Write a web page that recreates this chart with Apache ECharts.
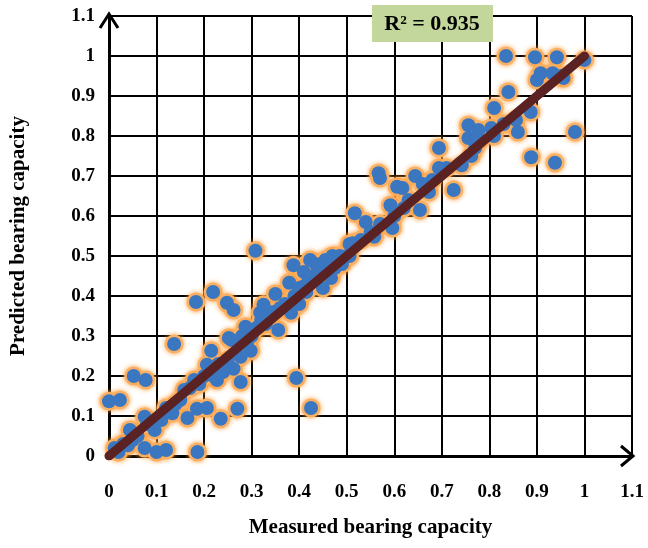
<!DOCTYPE html>
<html>
<head>
<meta charset="utf-8">
<script src="https://cdn.jsdelivr.net/npm/echarts@6/dist/echarts.min.js"></script>
<style>html,body{margin:0;padding:0;background:#fff;}#c{width:648px;height:548px;}</style>
</head>
<body>
<div id="c"></div>
<script>
var measured = [0.00,0.023,0.052,0.077,0.137,0.012,0.02,0.03,0.04,0.05,0.06,0.075,0.1,0.12,0.186,0.044,0.075,0.096,0.08,0.11,0.133,0.165,0.185,0.206,0.14,0.158,0.179,0.15,0.12,0.17,0.19,
0.227,0.235,0.27,0.277,0.262,0.206,0.215,0.252,0.298,0.277,0.24,0.22,0.25,0.2,0.23,
0.183,0.219,0.248,0.262,0.308,
0.258,0.287,0.3,0.318,0.325,0.35,0.356,0.383,0.379,0.388,0.33,0.34,0.31,0.36,0.37,0.32,0.345,0.29,0.28,
0.394,0.425,
0.40,0.408,0.42,0.423,0.43,0.44,0.45,0.46,0.467,0.47,0.48,0.49,0.5,0.506,0.41,0.435,0.455,0.4,0.39,0.415,0.445,0.475,0.485,
0.506,0.513,0.517,0.54,0.558,0.596,0.592,0.606,0.617,0.567,0.57,0.644,0.654,0.673,0.694,0.694,0.725,0.742,0.53,0.55,0.57,0.6,0.62,0.63,0.66,0.68,0.71,
0.756,0.777,0.804,0.81,0.756,0.762,0.81,0.84,0.856,0.86,0.887,0.888,0.938,0.98,0.835,0.896,0.942,1.0,0.908,0.9,0.933,0.956,0.78,0.83,0.77,0.95];
var predicted = [0.137,0.14,0.20,0.19,0.28,0.02,0.01,0.03,0.027,0.04,0.05,0.02,0.01,0.015,0.01,0.065,0.098,0.065,0.08,0.09,0.107,0.095,0.118,0.12,0.13,0.165,0.19,0.14,0.12,0.17,0.18,
0.19,0.093,0.118,0.185,0.218,0.228,0.263,0.295,0.263,0.248,0.21,0.2,0.24,0.2,0.23,
0.385,0.41,0.383,0.365,0.513,
0.29,0.323,0.3,0.358,0.378,0.405,0.315,0.358,0.433,0.477,0.33,0.35,0.32,0.37,0.38,0.34,0.36,0.28,0.3,
0.195,0.12,
0.42,0.423,0.44,0.49,0.45,0.47,0.42,0.48,0.445,0.50,0.49,0.48,0.5,0.53,0.46,0.48,0.49,0.38,0.4,0.41,0.455,0.47,0.5,
0.50,0.532,0.607,0.585,0.548,0.57,0.627,0.673,0.67,0.707,0.695,0.70,0.615,0.66,0.72,0.77,0.665,0.727,0.54,0.56,0.58,0.6,0.62,0.64,0.68,0.69,0.72,
0.827,0.815,0.82,0.80,0.795,0.75,0.87,0.91,0.84,0.81,0.86,0.747,0.733,0.81,1.0,0.997,0.997,0.99,0.957,0.94,0.957,0.945,0.79,0.83,0.77,0.95];
var lineX = [0, 1];
var lineY = [0, 1];
var r2Text = 'R² = 0.935';

var pts = measured.map(function(v,i){return [v, predicted[i]];});
var fitLine = lineX.map(function(v,i){return [v, lineY[i]];});
var font = 'Liberation Serif, Times New Roman, serif';
function fmt(v){return String(parseFloat(Number(v).toFixed(1)));}

var chart = echarts.init(document.getElementById('c'), null, {renderer:'canvas'});
var axisCommon = {
  type:'value', min:0, max:1.1, interval:0.1,
  axisLine:{show:true, onZero:false, lineStyle:{color:'#000', width:3}},
  axisTick:{show:false},
  splitLine:{show:true, lineStyle:{color:'#000', width:2}},
  nameLocation:'middle',
  nameTextStyle:{fontFamily:font, fontWeight:'bold', fontSize:21, color:'#000'}
};
chart.setOption({
  animation:false,
  backgroundColor:'#fff',
  grid:{left:104, right:16, top:16, bottom:92, containLabel:false},
  xAxis: Object.assign({}, axisCommon, {
    name:'Measured bearing capacity', nameGap:61,
    axisLabel:{fontFamily:font, fontWeight:'bold', fontSize:19, color:'#000', margin:27, formatter:fmt}
  }),
  yAxis: Object.assign({}, axisCommon, {
    name:'Predicted bearing capacity', nameGap:80,
    axisLabel:{fontFamily:font, fontWeight:'bold', fontSize:19, color:'#000', margin:14, formatter:fmt}
  }),
  series:[
    {type:'scatter', data:pts, symbolSize:19, z:2, silent:true,
     itemStyle:{color:'#fbb063', shadowBlur:5, shadowColor:'#ff9a33', opacity:1}},
    {type:'scatter', data:pts, symbolSize:14, z:3,
     itemStyle:{color:'#3a77c0', opacity:1}},
    {type:'line', data:fitLine, symbol:'none', z:5,
     lineStyle:{color:'#5a2222', width:9, cap:'round'}}
  ]
});

var o = chart.convertToPixel({gridIndex:0},[1.1,0]);
var t = chart.convertToPixel({gridIndex:0},[0,1.1]);
chart.setOption({
  graphic:[
    {type:'polyline', shape:{points:[[o[0]-11,o[1]-10],[o[0]+1,o[1]],[o[0]-11,o[1]+10]]}, style:{stroke:'#000', lineWidth:3, fill:null}, z:10},
    {type:'polyline', shape:{points:[[t[0]-9,t[1]+12],[t[0],t[1]-2],[t[0]+9,t[1]+12]]}, style:{stroke:'#000', lineWidth:3, fill:null}, z:10},
    {type:'rect', shape:{x:372, y:5, width:121, height:37}, style:{fill:'#c3d69b'}, z:10},
    {type:'text', x:432, y:24, style:{text:r2Text, fontFamily:font, fontWeight:'bold', fontSize:22, fill:'#000', align:'center', verticalAlign:'middle'}, z:11}
  ]
});
</script>
</body>
</html>
